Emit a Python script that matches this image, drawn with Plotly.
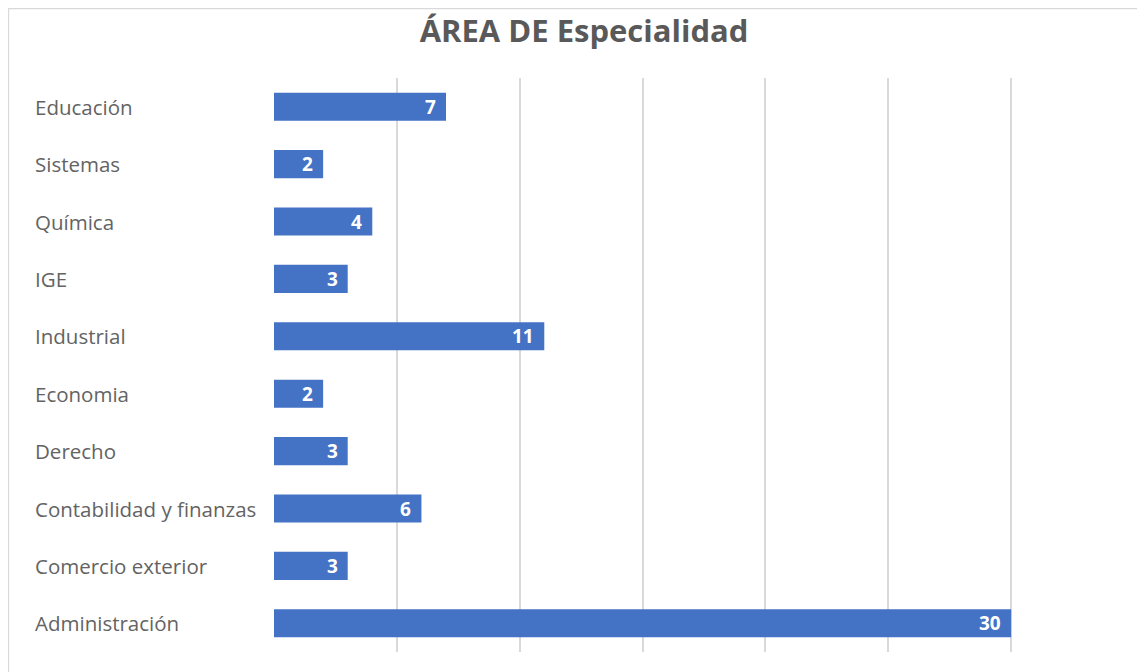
import plotly.graph_objects as go

categories = ["Administración", "Comercio exterior", "Contabilidad y finanzas", "Derecho",
              "Economia", "Industrial", "IGE", "Química", "Sistemas", "Educación"]
values = [30, 3, 6, 3, 2, 11, 3, 4, 2, 7]
title_text = "ÁREA DE Especialidad"

OFF = 8  # page offset of the figure in the browser
W, H = 1145 - OFF, 672 - OFF
L, R, T, B = 274 - OFF, 11, 78 - OFF, 20
pw, ph = W - L - R, H - T - B

fig = go.Figure(go.Bar(
    x=values, y=categories, orientation="h",
    marker=dict(color="#4472C4", line=dict(width=0)),
    width=0.49,
    hoverinfo="x+y",
))

annotations = []
for c in categories:
    annotations.append(dict(
        x=(33 - OFF - L) / pw, xref="paper", y=c, yref="y", text=c, showarrow=False,
        xanchor="left", yanchor="middle",
        font=dict(family="Open Sans", size=20.5, color="#636363"),
    ))
for c, v in zip(categories, values):
    annotations.append(dict(
        x=v, xref="x", y=c, yref="y", text=str(v), showarrow=False,
        xanchor="right", yanchor="middle", xshift=-8,
        font=dict(family="Open Sans", size=19, color="white", weight="bold"),
    ))

fig.update_layout(
    width=W, height=H,
    margin=dict(l=L, r=R, t=T, b=B),
    paper_bgcolor="white", plot_bgcolor="white",
    title=dict(text=title_text, x=(584 - OFF) / W, xanchor="center", y=1 - (31 - OFF) / H, yanchor="middle",
               font=dict(family="Open Sans", size=31, color="#595959", weight="bold")),
    xaxis=dict(range=[0, 35], dtick=5, showgrid=True, gridcolor="#D9D9D9", gridwidth=1.5,
               showticklabels=False, zeroline=False, showline=False, fixedrange=True),
    yaxis=dict(categoryorder="array", categoryarray=categories, showticklabels=False,
               showgrid=False, zeroline=False, showline=False, range=[-0.5, 9.5]),
    annotations=annotations,
    shapes=[dict(type="rect", xref="paper", yref="paper",
                 x0=(0.5 - L) / pw, x1=(W + 20 - L) / pw,
                 y0=-(H + 20 - T - ph) / ph, y1=1 + (T - 0.5) / ph,
                 line=dict(color="#D9D9D9", width=1.3), layer="below")],
    showlegend=False,
)

fig.write_html("out.html")
